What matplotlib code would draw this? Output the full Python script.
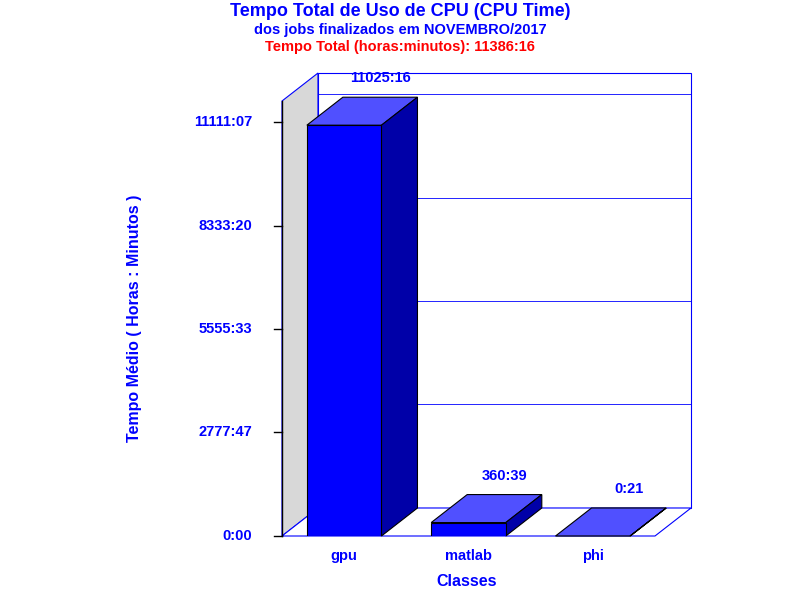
import matplotlib
matplotlib.use("Agg")
import matplotlib.pyplot as plt
from matplotlib.patches import Polygon

categories = ["gpu", "matlab", "phi"]
values_min = [11025*60+16, 360*60+39, 21]
value_labels = ["11025:16", "360:39", "0:21"]
tick_vals = [0, 166667, 333333, 500000, 666667]
tick_labels = ["0:00", "2777:47", "5555:33", "8333:20", "11111:07"]

plt.rcParams["font.family"] = "Liberation Sans"
plt.rcParams["font.weight"] = "bold"
W, H = 800, 600
fig = plt.figure(figsize=(8, 6), dpi=100)
def P(x, y):  # pixel -> fig fraction
    return (x / W, 1 - y / H)

L, R, B, T = 282, 655, 536, 101
DX, DY = 36, 28
ymax = 666667 * (B - T) / 414.0
ax = fig.add_axes([L / W, 1 - B / H, (R - L) / W, (B - T) / H])
ax.set_zorder(5)
ax.set_xlim(-0.5, 2.5)
ax.set_ylim(0, ymax)
ax.axis("off")

ft = fig.transFigure
blue = "#0000FF"
# walls
fig.patches.append(Polygon([P(L, B), P(L+DX, B-DY), P(L+DX, T-DY), P(L, T)], closed=True,
                           facecolor="#d8d8d8", edgecolor=blue, lw=0.8, transform=ft, zorder=0))
fig.patches.append(Polygon([P(L+DX, B-DY), P(R+DX, B-DY), P(R+DX, T-DY), P(L+DX, T-DY)], closed=True,
                           facecolor="white", edgecolor=blue, lw=0.8, transform=ft, zorder=0))
fig.patches.append(Polygon([P(L, B), P(L+DX, B-DY), P(R+DX, B-DY), P(R, B)], closed=True,
                           facecolor="white", edgecolor=blue, lw=0.8, transform=ft, zorder=0))

pxu = (R - L) / 3.0
pym = (B - T) / ymax
dxd = DX / pxu
dyd = DY / pym
# grid on back wall
for v in tick_vals[1:]:
    ax.plot([-0.5 + dxd, 2.5 + dxd], [v + dyd, v + dyd], color=blue, lw=0.6, clip_on=False, zorder=1)
# axis
ax.plot([-0.5, -0.5], [0, ymax], color="black", lw=1, clip_on=False, zorder=2)
for v, lab in zip(tick_vals, tick_labels):
    ax.plot([-0.5 - 8/pxu, -0.5], [v, v], color="black", lw=1, clip_on=False)
    ax.text(-0.5 - 30/pxu, v, lab, ha="right", va="center", color=blue, fontsize=10.5, fontweight="bold")

bw = 0.6
for i, (v, lab) in enumerate(zip(values_min, value_labels)):
    x0, x1 = i - bw/2, i + bw/2
    ax.add_patch(Polygon([(x0, v), (x0+dxd, v+dyd), (x1+dxd, v+dyd), (x1, v)], closed=True,
                         facecolor="#5050FF", edgecolor="black", lw=0.8, zorder=3, clip_on=False))
    ax.add_patch(Polygon([(x1, 0), (x1+dxd, dyd), (x1+dxd, v+dyd), (x1, v)], closed=True,
                         facecolor="#0000A8", edgecolor="black", lw=0.8, zorder=3, clip_on=False))
    ax.bar(i, v, width=bw, color=blue, edgecolor="black", lw=0.8, zorder=4)
    ax.text(i + dxd, v + dyd + 12/pym, lab, ha="center", va="bottom",
            color=blue, fontsize=10.5, fontweight="bold", clip_on=False)
    ax.text(i, -20/pym, categories[i], ha="center", va="center",
            color=blue, fontsize=10.5, fontweight="bold")

fig.text(*P(400, 11), "Tempo Total de Uso de CPU (CPU Time)", ha="center", va="center",
         color=blue, fontsize=13, fontweight="bold")
fig.text(*P(400, 30), "dos jobs finalizados em NOVEMBRO/2017", ha="center", va="center",
         color=blue, fontsize=10.5, fontweight="bold")
fig.text(*P(400, 47), "Tempo Total (horas:minutos): 11386:16", ha="center", va="center",
         color="red", fontsize=10.5, fontweight="bold")
fig.text(*P(135, 318), "Tempo Médio ( Horas : Minutos )", ha="center", va="center", rotation=90,
         color=blue, fontsize=11.5, fontweight="bold")
fig.text(*P(467, 582), "Classes", ha="center", va="center", color=blue, fontsize=11.5, fontweight="bold")

fig.savefig("out.png", dpi=100)
